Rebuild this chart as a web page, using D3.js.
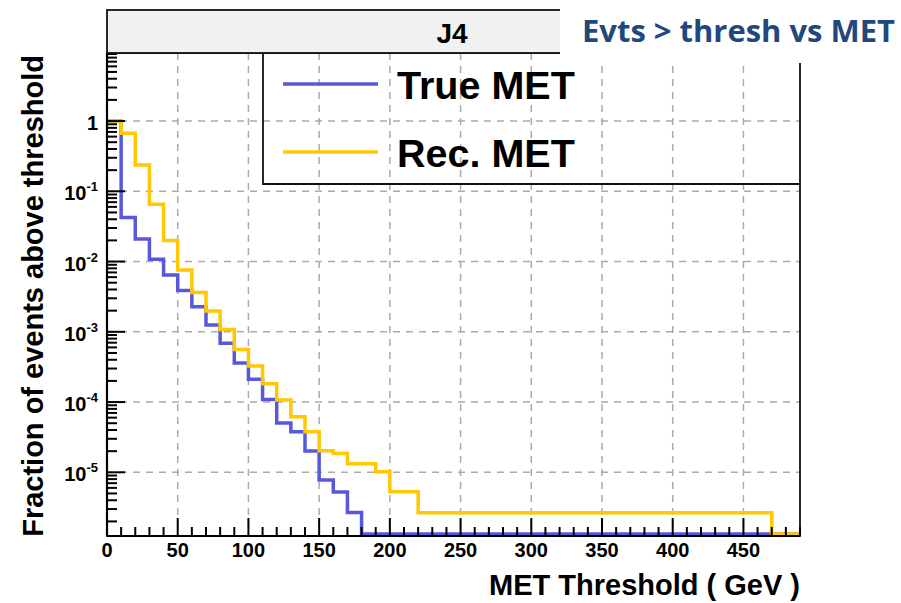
<!DOCTYPE html>
<html>
<head>
<meta charset="utf-8">
<script src="https://cdn.jsdelivr.net/npm/d3@7"></script>
<style>
  body { margin: 0; background: #fff; }
  svg { display: block; }
</style>
</head>
<body>
<svg id="chart" width="901" height="603"></svg>
<script>
// Lower edge of each 10 GeV threshold bin
const binEdges = [0, 10, 20, 30, 40, 50, 60, 70, 80, 90,
  100, 110, 120, 130, 140, 150, 160, 170, 180, 190,
  200, 210, 220, 230, 240, 250, 260, 270, 280, 290,
  300, 310, 320, 330, 340, 350, 360, 370, 380, 390,
  400, 410, 420, 430, 440, 450, 460, 470, 480];
const binUpper = 490;

// Fraction of events above threshold, true MET
const trueMet = [1, 0.0423, 0.0209, 0.01076, 0.00643, 0.00387, 0.00228, 0.00125, 6.85e-4, 3.6e-4,
  2.11e-4, 1.09e-4, 5.03e-5, 3.79e-5, 2.01e-5, 7.78e-6, 5.25e-6, 2.68e-6, 0, 0,
  0, 0, 0, 0, 0, 0, 0, 0, 0, 0,
  0, 0, 0, 0, 0, 0, 0, 0, 0, 0,
  0, 0, 0, 0, 0, 0, 0, 0, 0];

// Fraction of events above threshold, reconstructed MET
const recMet = [1, 0.668, 0.2365, 0.0652, 0.0199, 0.00757, 0.00362, 0.00198, 0.00108, 5.6e-4,
  3.26e-4, 1.82e-4, 1.07e-4, 6.18e-5, 3.79e-5, 2.02e-5, 1.86e-5, 1.32e-5, 1.32e-5, 1.02e-5,
  5.3e-6, 5.3e-6, 2.66e-6, 2.66e-6, 2.66e-6, 2.66e-6, 2.66e-6, 2.66e-6, 2.66e-6, 2.66e-6,
  2.66e-6, 2.66e-6, 2.66e-6, 2.66e-6, 2.66e-6, 2.66e-6, 2.66e-6, 2.66e-6, 2.66e-6, 2.66e-6,
  2.66e-6, 2.66e-6, 2.66e-6, 2.66e-6, 2.66e-6, 2.66e-6, 2.66e-6, 0, 0];

const xTickValues = [0, 50, 100, 150, 200, 250, 300, 350, 400, 450];
const yExponents = [0, -1, -2, -3, -4, -5];
const seriesNames = ["True MET", "Rec. MET"];
const seriesColors = ["#5858dc", "#ffc800"];
const headerText = "J4";
const titleText = "Evts > thresh vs MET";
const xTitle = "MET Threshold ( GeV )";
const yTitle = "Fraction of events above threshold";

const yMin = 1.24e-6, yMax = 9.3;

(function draw() {
  const svg = d3.select("#chart");
  const pLeft = 107, pRight = 800, pTop = 53, pBottom = 536;

  const x = d3.scaleLinear().domain([0, binUpper]).range([pLeft, pRight]);
  const y = d3.scaleLog().domain([yMin, yMax]).range([pBottom, pTop]);

  const fontMain = "'Liberation Sans', Arial, Helvetica, sans-serif";

  svg.append("defs").append("clipPath").attr("id", "plotClip")
    .append("rect").attr("x", pLeft).attr("y", pTop)
    .attr("width", pRight - pLeft).attr("height", pBottom - pTop);

  // Dashed grid
  const grid = svg.append("g").attr("stroke", "#ababab").attr("stroke-width", 1.5)
    .attr("stroke-dasharray", "7,6");
  grid.selectAll("line.vx").data(xTickValues.filter(v => v > 0)).join("line")
    .attr("x1", d => x(d)).attr("x2", d => x(d))
    .attr("y1", pTop).attr("y2", pBottom);
  grid.selectAll("line.hy").data(yExponents).join("line")
    .attr("x1", pLeft).attr("x2", pRight)
    .attr("y1", d => y(Math.pow(10, d))).attr("y2", d => y(Math.pow(10, d)));

  // Step histograms (empty bins sit on the bottom axis)
  const stepLine = d3.line()
    .x(d => x(d[0]))
    .y(d => d[1] > 0 ? y(d[1]) : y(yMin) - 2)
    .curve(d3.curveStepAfter);

  [trueMet, recMet].forEach((vals, k) => {
    const pts = binEdges.map((e, i) => [e, vals[i]]);
    pts.push([binUpper, vals[vals.length - 1]]);
    svg.append("path").datum(pts)
      .attr("clip-path", "url(#plotClip)")
      .attr("fill", "none")
      .attr("stroke", seriesColors[k])
      .attr("stroke-width", 3.5)
      .attr("stroke-linejoin", "miter")
      .attr("d", stepLine);
  });

  // Legend (transparent box)
  const legend = svg.append("g");
  legend.append("path")
    .attr("d", `M263,${pTop}V184H${pRight}`)
    .attr("fill", "none").attr("stroke", "#111").attr("stroke-width", 1.8);
  const legendRows = [84, 152];
  seriesNames.forEach((name, i) => {
    legend.append("line")
      .attr("x1", 283).attr("x2", 378)
      .attr("y1", legendRows[i]).attr("y2", legendRows[i])
      .attr("stroke", seriesColors[i]).attr("stroke-width", 3.5);
    legend.append("text")
      .attr("x", 397).attr("y", legendRows[i] + 15)
      .attr("font-family", fontMain).attr("font-weight", "bold")
      .attr("font-size", 39.5).attr("fill", "#000")
      .text(name);
  });

  // Frame
  svg.append("rect").attr("x", pLeft).attr("y", pTop)
    .attr("width", pRight - pLeft).attr("height", pBottom - pTop)
    .attr("fill", "none").attr("stroke", "#111").attr("stroke-width", 1.8);

  // X ticks (inward)
  const xMinor = d3.range(0, binUpper + 1, 10);
  const ticks = svg.append("g").attr("stroke", "#000").attr("stroke-width", 2);
  ticks.selectAll("line.xt").data(xMinor).join("line")
    .attr("x1", d => x(d)).attr("x2", d => x(d))
    .attr("y1", pBottom)
    .attr("y2", d => pBottom - (d % 50 === 0 ? 18 : 9));

  // Y ticks (inward), log minor ticks 2..9 per decade
  const yTickVals = [];
  for (let e = -6; e <= 0; e++) {
    for (let m = 1; m <= 9; m++) {
      const v = m * Math.pow(10, e);
      if (v >= yMin && v <= yMax) yTickVals.push({ v, major: m === 1 });
    }
  }
  ticks.selectAll("line.yt").data(yTickVals).join("line")
    .attr("x1", pLeft)
    .attr("x2", d => pLeft + (d.major ? 18 : 10))
    .attr("y1", d => y(d.v)).attr("y2", d => y(d.v));

  // Axis lines
  svg.append("line").attr("x1", pLeft).attr("x2", pRight).attr("y1", pBottom).attr("y2", pBottom)
    .attr("stroke", "#000").attr("stroke-width", 2.2);
  svg.append("line").attr("x1", pLeft).attr("x2", pLeft).attr("y1", pTop).attr("y2", pBottom)
    .attr("stroke", "#000").attr("stroke-width", 2.2);

  // X tick labels
  svg.append("g").selectAll("text").data(xTickValues).join("text")
    .attr("x", d => x(d)).attr("y", pBottom + 21)
    .attr("text-anchor", "middle")
    .attr("font-family", fontMain).attr("font-weight", "bold")
    .attr("font-size", 20).attr("fill", "#000")
    .text(d => d);

  // Y tick labels: 1, 10^-1 ... 10^-5
  const yLab = svg.append("g")
    .attr("font-family", fontMain).attr("font-weight", "bold").attr("fill", "#000");
  yExponents.forEach(e => {
    const ty = y(Math.pow(10, e));
    const t = yLab.append("text").attr("x", 98).attr("y", ty + 9)
      .attr("text-anchor", "end").attr("font-size", 20);
    if (e === 0) {
      t.text("1");
    } else {
      t.append("tspan").text("10");
      t.append("tspan").attr("font-size", 13).attr("dy", -9).text(String(e));
    }
  });

  // Axis titles
  svg.append("text")
    .attr("x", pRight).attr("y", 595)
    .attr("text-anchor", "end")
    .attr("font-family", fontMain).attr("font-weight", "bold")
    .attr("font-size", 29).attr("fill", "#000")
    .text(xTitle);

  svg.append("text")
    .attr("transform", `translate(43,${pTop + 2}) rotate(-90)`)
    .attr("text-anchor", "end")
    .attr("font-family", fontMain).attr("font-weight", "bold")
    .attr("font-size", 29).attr("fill", "#000")
    .text(yTitle);

  // Header strip
  svg.append("rect").attr("x", pLeft).attr("y", 10)
    .attr("width", pRight - pLeft).attr("height", pTop - 10)
    .attr("fill", "#f1f1f1").attr("stroke", "#111").attr("stroke-width", 1.8);
  svg.append("text")
    .attr("x", 452).attr("y", 43)
    .attr("text-anchor", "middle")
    .attr("font-family", fontMain).attr("font-weight", "bold")
    .attr("font-size", 28).attr("fill", "#000")
    .text(headerText);

  // Slide title over the top-right corner
  svg.append("rect").attr("x", 560).attr("y", 0)
    .attr("width", 341).attr("height", 63).attr("fill", "#fff");
  svg.append("text")
    .attr("x", 582).attr("y", 42)
    .attr("font-family", "'Open Sans', Lato, sans-serif").attr("font-weight", 700)
    .attr("font-size", 30).attr("fill", "#1f497d")
    .attr("textLength", 313).attr("lengthAdjust", "spacingAndGlyphs")
    .text(titleText);
})();
</script>
</body>
</html>
